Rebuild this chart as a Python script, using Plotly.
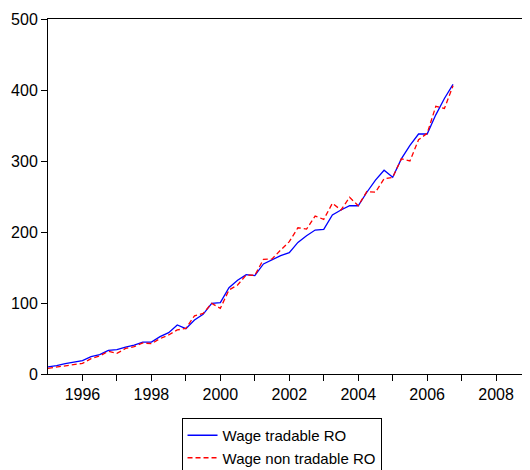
import plotly.graph_objects as go

years = list(range(1995, 2007))
quarters = [1, 2, 3, 4]

wage_tradable = [
    10, 11.7, 14.5, 16.4,
    18.8, 24.4, 27.2, 33.3,
    34.3, 38, 40.8, 45,
    45, 52.6, 58.2, 69,
    63.8, 76, 84, 99.5,
    100.5, 121.6, 132, 140,
    138.5, 155, 160.6, 166.7,
    170.9, 185.4, 194.8, 202.8,
    203.8, 224, 231, 237,
    237, 256, 273, 287,
    277, 303, 322, 338,
    338, 365, 388, 408,
]

wage_non_tradable = [
    8, 9.9, 12.2, 14,
    15, 21.6, 25.4, 31.9,
    29, 36, 38.5, 43.7,
    42.7, 49.8, 55, 62,
    64.3, 82, 85.4, 99.5,
    92.5, 118.3, 125.4, 139.4,
    139, 161.5, 162, 174.6,
    186.4, 206, 204, 222.5,
    217.8, 240.4, 231, 248.8,
    237, 257, 256, 275,
    277, 303, 300, 330,
    339, 377, 374, 406,
]

x_vals = [y + (q - 1) / 4 for y in years for q in quarters]

tick_years = list(range(1996, 2009))
tick_text = [str(y) if y % 2 == 0 else "" for y in tick_years]
y_ticks = [0, 100, 200, 300, 400, 500]

fig = go.Figure()
fig.add_trace(go.Scatter(
    x=x_vals, y=wage_tradable, mode="lines", name="Wage tradable RO",
    line=dict(color="#0000FF", width=1.3),
))
fig.add_trace(go.Scatter(
    x=x_vals, y=wage_non_tradable, mode="lines", name="Wage non tradable RO",
    line=dict(color="#FF0000", width=1.3, dash="5px,3px"),
))

font = dict(family="Liberation Sans, Arial, sans-serif", size=16, color="#000000")
legend_font = dict(family="Liberation Sans, Arial, sans-serif", size=15, color="#000000")

# page body has an 8px default margin, so the figure is sized/offset to compensate
fig.update_layout(
    width=522, height=462,
    margin=dict(l=40, r=7, t=11, b=96, autoexpand=False),
    paper_bgcolor="white", plot_bgcolor="white",
    font=font,
    showlegend=True,
    legend=dict(
        xref="container", yref="container",
        x=0.524, y=0.1126, xanchor="center", yanchor="top",
        bordercolor="#000000", borderwidth=1, bgcolor="white",
        font=legend_font, tracegroupgap=0,
    ),
    xaxis=dict(
        range=[1995, 2008.78], tickvals=tick_years, ticktext=tick_text,
        ticks="outside", ticklen=6, tickcolor="#000000", tickwidth=1,
        showgrid=False, zeroline=False, showline=True, linecolor="#000000",
        linewidth=1, mirror=True, tickfont=font, automargin=False,
    ),
    yaxis=dict(
        range=[0, 500], tickvals=y_ticks,
        ticks="outside", ticklen=6, tickcolor="#000000", tickwidth=1,
        showgrid=False, zeroline=False, showline=True, linecolor="#000000",
        linewidth=1, mirror=True, tickfont=font, automargin=False,
    ),
)

fig.write_html("out.html")
